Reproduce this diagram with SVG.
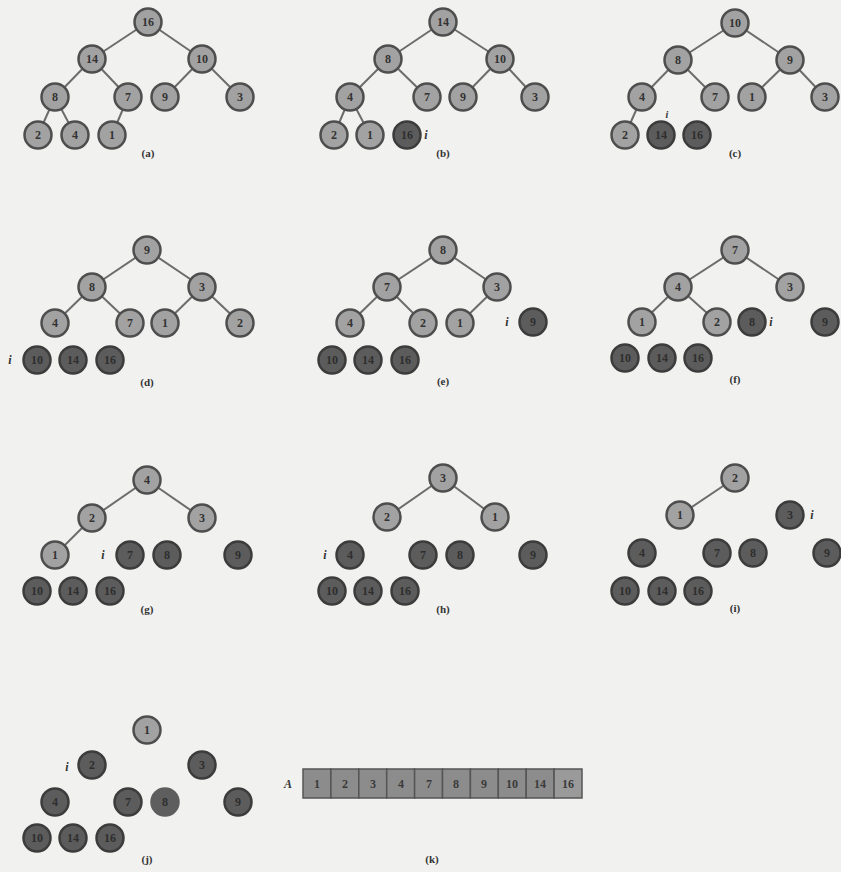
<svg xmlns="http://www.w3.org/2000/svg" width="841" height="872" viewBox="0 0 841 872">
<style>
.bg{fill:#f1f1ef}
.e line{stroke:#6c6c6c;stroke-width:2}
.L circle{fill:#a2a2a2;stroke:#4e4e4e;stroke-width:2.5}
.D circle{fill:#5c5c5c;stroke:#3c3c3c;stroke-width:2.5}
.S circle{fill:#5e5e5e;stroke:#5e5e5e;stroke-width:2.5}
.L text{fill:#333;font-family:"Liberation Serif",serif;font-size:12px;font-weight:bold;text-anchor:middle}
.D text,.S text{fill:#2e2e2e;font-family:"Liberation Serif",serif;font-size:12px;font-weight:bold;text-anchor:middle}
.lbl{fill:#333;font-family:"Liberation Serif",serif;font-size:11px;font-weight:bold;text-anchor:middle}
.iv{fill:#333;font-family:"Liberation Serif",serif;font-size:12px;font-weight:bold;font-style:italic;text-anchor:middle}
.cell{fill:#8c8c8c;stroke:#555;stroke-width:1.5}
.ct{fill:#3a3a3a;font-family:"Liberation Serif",serif;font-size:12px;font-weight:bold;text-anchor:middle}
circle{r:13.5px}
</style>
<rect class="bg" x="0" y="0" width="841" height="872"/>
<g id="connectors" class="e">
<line x1="148" y1="22" x2="92" y2="59"/><line x1="148" y1="22" x2="202" y2="59"/>
<line x1="92" y1="59" x2="55" y2="97"/><line x1="92" y1="59" x2="128" y2="97"/>
<line x1="202" y1="59" x2="165" y2="97"/><line x1="202" y1="59" x2="240" y2="97"/>
<line x1="55" y1="97" x2="38" y2="135"/><line x1="55" y1="97" x2="75" y2="135"/>
<line x1="128" y1="97" x2="112" y2="135"/>
<line x1="443" y1="22" x2="388" y2="59"/><line x1="443" y1="22" x2="500" y2="59"/>
<line x1="388" y1="59" x2="350" y2="97"/><line x1="388" y1="59" x2="427" y2="97"/>
<line x1="500" y1="59" x2="463" y2="97"/><line x1="500" y1="59" x2="535" y2="97"/>
<line x1="350" y1="97" x2="334" y2="135"/><line x1="350" y1="97" x2="370" y2="135"/>
<line x1="735" y1="23" x2="678" y2="60"/><line x1="735" y1="23" x2="790" y2="60"/>
<line x1="678" y1="60" x2="642" y2="97"/><line x1="678" y1="60" x2="715" y2="97"/>
<line x1="790" y1="60" x2="752" y2="97"/><line x1="790" y1="60" x2="825" y2="97"/>
<line x1="642" y1="97" x2="625" y2="135"/>
<line x1="147" y1="250" x2="92" y2="287"/><line x1="147" y1="250" x2="202" y2="287"/>
<line x1="92" y1="287" x2="55" y2="323"/><line x1="92" y1="287" x2="130" y2="323"/>
<line x1="202" y1="287" x2="165" y2="323"/><line x1="202" y1="287" x2="240" y2="323"/>
<line x1="443" y1="250" x2="387" y2="287"/><line x1="443" y1="250" x2="497" y2="287"/>
<line x1="387" y1="287" x2="350" y2="323"/><line x1="387" y1="287" x2="423" y2="323"/>
<line x1="497" y1="287" x2="460" y2="323"/>
<line x1="735" y1="250" x2="678" y2="287"/><line x1="735" y1="250" x2="790" y2="287"/>
<line x1="678" y1="287" x2="642" y2="322"/><line x1="678" y1="287" x2="717" y2="322"/>
<line x1="147" y1="480" x2="92" y2="518"/><line x1="147" y1="480" x2="202" y2="518"/>
<line x1="92" y1="518" x2="55" y2="555"/>
<line x1="443" y1="478" x2="387" y2="517"/><line x1="443" y1="478" x2="495" y2="517"/>
<line x1="735" y1="478" x2="680" y2="515"/>
</g>

<g id="a16" class="L"><circle cx="148" cy="22" r="13.5"/><text x="148" y="26">16</text></g>
<g id="a14" class="L"><circle cx="92" cy="59" r="13.5"/><text x="92" y="63">14</text></g>
<g id="a10" class="L"><circle cx="202" cy="59" r="13.5"/><text x="202" y="63">10</text></g>
<g id="a8" class="L"><circle cx="55" cy="97" r="13.5"/><text x="55" y="101">8</text></g>
<g id="a7" class="L"><circle cx="128" cy="97" r="13.5"/><text x="128" y="101">7</text></g>
<g id="a9" class="L"><circle cx="165" cy="97" r="13.5"/><text x="165" y="101">9</text></g>
<g id="a3" class="L"><circle cx="240" cy="97" r="13.5"/><text x="240" y="101">3</text></g>
<g id="a2" class="L"><circle cx="38" cy="135" r="13.5"/><text x="38" y="139">2</text></g>
<g id="a4" class="L"><circle cx="75" cy="135" r="13.5"/><text x="75" y="139">4</text></g>
<g id="a1" class="L"><circle cx="112" cy="135" r="13.5"/><text x="112" y="139">1</text></g>
<text class="lbl" x="148" y="157">(a)</text>

<g id="b14" class="L"><circle cx="443" cy="22" r="13.5"/><text x="443" y="26">14</text></g>
<g id="b8" class="L"><circle cx="388" cy="59" r="13.5"/><text x="388" y="63">8</text></g>
<g id="b10" class="L"><circle cx="500" cy="59" r="13.5"/><text x="500" y="63">10</text></g>
<g id="b4" class="L"><circle cx="350" cy="97" r="13.5"/><text x="350" y="101">4</text></g>
<g id="b7" class="L"><circle cx="427" cy="97" r="13.5"/><text x="427" y="101">7</text></g>
<g id="b9" class="L"><circle cx="463" cy="97" r="13.5"/><text x="463" y="101">9</text></g>
<g id="b3" class="L"><circle cx="535" cy="97" r="13.5"/><text x="535" y="101">3</text></g>
<g id="b2" class="L"><circle cx="334" cy="135" r="13.5"/><text x="334" y="139">2</text></g>
<g id="b1" class="L"><circle cx="370" cy="135" r="13.5"/><text x="370" y="139">1</text></g>
<g id="b16" class="D"><circle cx="407" cy="135" r="13.5"/><text x="407" y="139">16</text></g>
<text class="iv" x="426" y="139">i</text>
<text class="lbl" x="443" y="157">(b)</text>

<g id="c10" class="L"><circle cx="735" cy="23" r="13.5"/><text x="735" y="27">10</text></g>
<g id="c8" class="L"><circle cx="678" cy="60" r="13.5"/><text x="678" y="64">8</text></g>
<g id="c9" class="L"><circle cx="790" cy="60" r="13.5"/><text x="790" y="64">9</text></g>
<g id="c4" class="L"><circle cx="642" cy="97" r="13.5"/><text x="642" y="101">4</text></g>
<g id="c7" class="L"><circle cx="715" cy="97" r="13.5"/><text x="715" y="101">7</text></g>
<g id="c1" class="L"><circle cx="752" cy="97" r="13.5"/><text x="752" y="101">1</text></g>
<g id="c3" class="L"><circle cx="825" cy="97" r="13.5"/><text x="825" y="101">3</text></g>
<g id="c2" class="L"><circle cx="625" cy="135" r="13.5"/><text x="625" y="139">2</text></g>
<g id="c14" class="D"><circle cx="661" cy="135" r="13.5"/><text x="661" y="139">14</text></g>
<g id="c16" class="D"><circle cx="697" cy="135" r="13.5"/><text x="697" y="139">16</text></g>
<text class="iv" x="667" y="118" style="font-size:10px">i</text>
<text class="lbl" x="735" y="157">(c)</text>

<g id="d9" class="L"><circle cx="147" cy="250" r="13.5"/><text x="147" y="254">9</text></g>
<g id="d8" class="L"><circle cx="92" cy="287" r="13.5"/><text x="92" y="291">8</text></g>
<g id="d3" class="L"><circle cx="202" cy="287" r="13.5"/><text x="202" y="291">3</text></g>
<g id="d4" class="L"><circle cx="55" cy="323" r="13.5"/><text x="55" y="327">4</text></g>
<g id="d7" class="L"><circle cx="130" cy="323" r="13.5"/><text x="130" y="327">7</text></g>
<g id="d1" class="L"><circle cx="165" cy="323" r="13.5"/><text x="165" y="327">1</text></g>
<g id="d2" class="L"><circle cx="240" cy="323" r="13.5"/><text x="240" y="327">2</text></g>
<g id="d10" class="D"><circle cx="37" cy="360" r="13.5"/><text x="37" y="364">10</text></g>
<g id="d14" class="D"><circle cx="73" cy="360" r="13.5"/><text x="73" y="364">14</text></g>
<g id="d16" class="D"><circle cx="110" cy="360" r="13.5"/><text x="110" y="364">16</text></g>
<text class="iv" x="10" y="364">i</text>
<text class="lbl" x="147" y="386">(d)</text>

<g id="e8" class="L"><circle cx="443" cy="250" r="13.5"/><text x="443" y="254">8</text></g>
<g id="e7" class="L"><circle cx="387" cy="287" r="13.5"/><text x="387" y="291">7</text></g>
<g id="e3" class="L"><circle cx="497" cy="287" r="13.5"/><text x="497" y="291">3</text></g>
<g id="e4" class="L"><circle cx="350" cy="323" r="13.5"/><text x="350" y="327">4</text></g>
<g id="e2" class="L"><circle cx="423" cy="323" r="13.5"/><text x="423" y="327">2</text></g>
<g id="e1" class="L"><circle cx="460" cy="323" r="13.5"/><text x="460" y="327">1</text></g>
<g id="e9" class="D"><circle cx="533" cy="322" r="13.5"/><text x="533" y="326">9</text></g>
<text class="iv" x="507" y="326">i</text>
<g id="e10" class="D"><circle cx="332" cy="360" r="13.5"/><text x="332" y="364">10</text></g>
<g id="e14" class="D"><circle cx="368" cy="360" r="13.5"/><text x="368" y="364">14</text></g>
<g id="e16" class="D"><circle cx="405" cy="360" r="13.5"/><text x="405" y="364">16</text></g>
<text class="lbl" x="443" y="385">(e)</text>

<g id="f7" class="L"><circle cx="735" cy="250" r="13.5"/><text x="735" y="254">7</text></g>
<g id="f4" class="L"><circle cx="678" cy="287" r="13.5"/><text x="678" y="291">4</text></g>
<g id="f3" class="L"><circle cx="790" cy="287" r="13.5"/><text x="790" y="291">3</text></g>
<g id="f1" class="L"><circle cx="642" cy="322" r="13.5"/><text x="642" y="326">1</text></g>
<g id="f2" class="L"><circle cx="717" cy="322" r="13.5"/><text x="717" y="326">2</text></g>
<g id="f8" class="D"><circle cx="752" cy="322" r="13.5"/><text x="752" y="326">8</text></g>
<text class="iv" x="771" y="326">i</text>
<g id="f9" class="D"><circle cx="825" cy="322" r="13.5"/><text x="825" y="326">9</text></g>
<g id="f10" class="D"><circle cx="625" cy="358" r="13.5"/><text x="625" y="362">10</text></g>
<g id="f14" class="D"><circle cx="662" cy="358" r="13.5"/><text x="662" y="362">14</text></g>
<g id="f16" class="D"><circle cx="698" cy="358" r="13.5"/><text x="698" y="362">16</text></g>
<text class="lbl" x="735" y="383">(f)</text>

<g id="g4" class="L"><circle cx="147" cy="480" r="13.5"/><text x="147" y="484">4</text></g>
<g id="g2" class="L"><circle cx="92" cy="518" r="13.5"/><text x="92" y="522">2</text></g>
<g id="g3" class="L"><circle cx="202" cy="518" r="13.5"/><text x="202" y="522">3</text></g>
<g id="g1" class="L"><circle cx="55" cy="555" r="13.5"/><text x="55" y="559">1</text></g>
<text class="iv" x="103" y="559">i</text>
<g id="g7" class="D"><circle cx="130" cy="555" r="13.5"/><text x="130" y="559">7</text></g>
<g id="g8" class="D"><circle cx="167" cy="555" r="13.5"/><text x="167" y="559">8</text></g>
<g id="g9" class="D"><circle cx="238" cy="555" r="13.5"/><text x="238" y="559">9</text></g>
<g id="g10" class="D"><circle cx="37" cy="591" r="13.5"/><text x="37" y="595">10</text></g>
<g id="g14" class="D"><circle cx="73" cy="591" r="13.5"/><text x="73" y="595">14</text></g>
<g id="g16" class="D"><circle cx="110" cy="591" r="13.5"/><text x="110" y="595">16</text></g>
<text class="lbl" x="147" y="613">(g)</text>

<g id="h3" class="L"><circle cx="443" cy="478" r="13.5"/><text x="443" y="482">3</text></g>
<g id="h2" class="L"><circle cx="387" cy="517" r="13.5"/><text x="387" y="521">2</text></g>
<g id="h1" class="L"><circle cx="495" cy="517" r="13.5"/><text x="495" y="521">1</text></g>
<text class="iv" x="325" y="559">i</text>
<g id="h4" class="D"><circle cx="350" cy="555" r="13.5"/><text x="350" y="559">4</text></g>
<g id="h7" class="D"><circle cx="423" cy="555" r="13.5"/><text x="423" y="559">7</text></g>
<g id="h8" class="D"><circle cx="460" cy="555" r="13.5"/><text x="460" y="559">8</text></g>
<g id="h9" class="D"><circle cx="533" cy="555" r="13.5"/><text x="533" y="559">9</text></g>
<g id="h10" class="D"><circle cx="332" cy="591" r="13.5"/><text x="332" y="595">10</text></g>
<g id="h14" class="D"><circle cx="368" cy="591" r="13.5"/><text x="368" y="595">14</text></g>
<g id="h16" class="D"><circle cx="405" cy="591" r="13.5"/><text x="405" y="595">16</text></g>
<text class="lbl" x="443" y="613">(h)</text>

<g id="i2" class="L"><circle cx="735" cy="478" r="13.5"/><text x="735" y="482">2</text></g>
<g id="i1" class="L"><circle cx="680" cy="515" r="13.5"/><text x="680" y="519">1</text></g>
<g id="i3" class="D"><circle cx="790" cy="515" r="13.5"/><text x="790" y="519">3</text></g>
<text class="iv" x="812" y="519">i</text>
<g id="i4" class="D"><circle cx="642" cy="553" r="13.5"/><text x="642" y="557">4</text></g>
<g id="i7" class="D"><circle cx="717" cy="553" r="13.5"/><text x="717" y="557">7</text></g>
<g id="i8" class="D"><circle cx="753" cy="553" r="13.5"/><text x="753" y="557">8</text></g>
<g id="i9" class="D"><circle cx="827" cy="553" r="13.5"/><text x="827" y="557">9</text></g>
<g id="i10" class="D"><circle cx="625" cy="591" r="13.5"/><text x="625" y="595">10</text></g>
<g id="i14" class="D"><circle cx="662" cy="591" r="13.5"/><text x="662" y="595">14</text></g>
<g id="i16" class="D"><circle cx="698" cy="591" r="13.5"/><text x="698" y="595">16</text></g>
<text class="lbl" x="735" y="612">(i)</text>

<g id="j1" class="L"><circle cx="147" cy="730" r="13.5"/><text x="147" y="734">1</text></g>
<text class="iv" x="67" y="771">i</text>
<g id="j2" class="D"><circle cx="92" cy="765" r="13.5"/><text x="92" y="769">2</text></g>
<g id="j3" class="D"><circle cx="202" cy="765" r="13.5"/><text x="202" y="769">3</text></g>
<g id="j4" class="D"><circle cx="55" cy="802" r="13.5"/><text x="55" y="806">4</text></g>
<g id="j7" class="D"><circle cx="128" cy="802" r="13.5"/><text x="128" y="806">7</text></g>
<g id="j8" class="S"><circle cx="165" cy="802" r="13.5"/><text x="165" y="806">8</text></g>
<g id="j9" class="D"><circle cx="238" cy="802" r="13.5"/><text x="238" y="806">9</text></g>
<g id="j10" class="D"><circle cx="37" cy="838" r="13.5"/><text x="37" y="842">10</text></g>
<g id="j14" class="D"><circle cx="73" cy="838" r="13.5"/><text x="73" y="842">14</text></g>
<g id="j16" class="D"><circle cx="110" cy="838" r="13.5"/><text x="110" y="842">16</text></g>
<text class="lbl" x="147" y="863">(j)</text>

<g id="k-array">
<text class="iv" x="288" y="788">A</text>
<rect class="cell" x="303" y="769" width="27.9" height="29"/><text class="ct" x="317" y="788">1</text>
<rect class="cell" x="330.9" y="769" width="27.9" height="29"/><text class="ct" x="345" y="788">2</text>
<rect class="cell" x="358.8" y="769" width="27.9" height="29"/><text class="ct" x="373" y="788">3</text>
<rect class="cell" x="386.7" y="769" width="27.9" height="29"/><text class="ct" x="401" y="788">4</text>
<rect class="cell" x="414.6" y="769" width="27.9" height="29"/><text class="ct" x="429" y="788">7</text>
<rect class="cell" x="442.5" y="769" width="27.9" height="29"/><text class="ct" x="456" y="788">8</text>
<rect class="cell" x="470.4" y="769" width="27.9" height="29"/><text class="ct" x="484" y="788">9</text>
<rect class="cell" x="498.3" y="769" width="27.9" height="29"/><text class="ct" x="512" y="788">10</text>
<rect class="cell" x="526.2" y="769" width="27.9" height="29"/><text class="ct" x="540" y="788">14</text>
<rect class="cell" x="554.1" y="769" width="27.9" height="29" style="fill:#9a9a9a"/><text class="ct" x="568" y="788">16</text>
</g>
<text class="lbl" x="432" y="863">(k)</text>
</svg>
